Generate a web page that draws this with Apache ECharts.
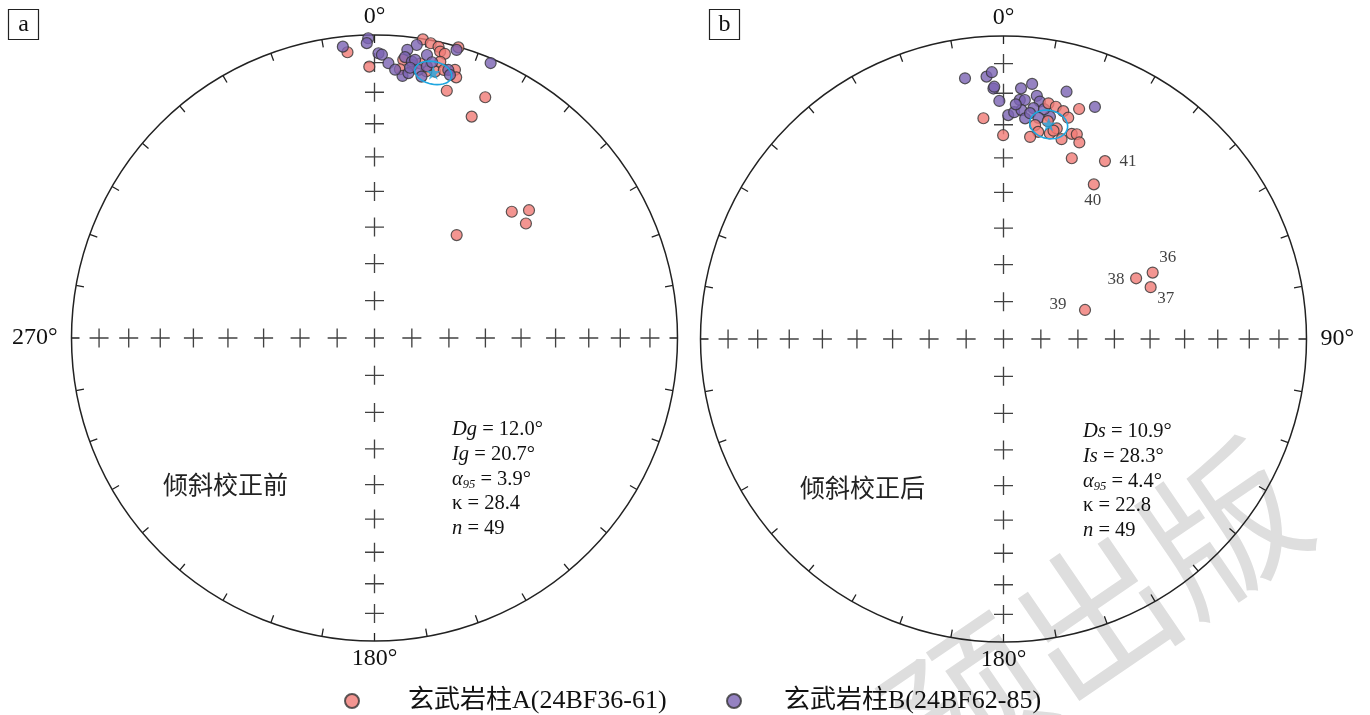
<!DOCTYPE html>
<html><head><meta charset="utf-8">
<script src="https://cdn.jsdelivr.net/npm/echarts@6/dist/echarts.min.js"></script>
<style>html,body{margin:0;padding:0;background:#fff}#c{width:1370px;height:715px}</style>
</head><body><div id="c"></div>
<script>
// ---- Panel a: before tilt correction (declination, inclination in degrees) ----
const aRedDec = [354.6, 358.9, 9.2, 10.8, 12.4, 12.9, 13.9, 16.1, 5.9, 5.4, 12.8, 16.7, 17.4, 16.3, 24.7, 23.7, 47.4, 50.4, 52.9, 38.6, 7.9, 13.4, 11.0, 9.5, 14.5];
const aRedInc = [5.9, 11.4, 0.2, 1.1, 1.8, 3.4, 3.8, 0.2, 8.5, 11.9, 10.8, 8.4, 10.8, 16.1, 13.6, 21.3, 38.4, 34.2, 37.4, 54.2, 10.0, 7.0, 11.3, 9.0, 9.5];
const aPurDec = [353.8, 358.8, 358.5, 0.8, 1.5, 2.9, 8.2, 15.9, 22.9, 6.5, 6.2, 6.1, 7.3, 7.7, 8.3, 10.5, 9.3, 10.2, 10.9, 15.4, 16.0, 7.5, 11.8, 4.4];
const aPurInc = [3.7, 1.2, 3.0, 6.7, 7.2, 10.1, 2.6, 1.3, 1.7, 4.8, 7.5, 14.1, 12.9, 8.8, 8.0, 5.6, 11.3, 13.4, 9.6, 9.1, 10.6, 11.0, 7.8, 12.2];
// ---- Panel b: after tilt correction ----
const bRedDec = [354.8, 359.9, 10.8, 12.7, 14.7, 16.3, 18.2, 8.4, 9.5, 7.5, 12.7, 14.2, 16.2, 18.4, 19.7, 21.1, 20.7, 29.7, 30.3, 66.0, 65.4, 70.6, 70.4, 11.5, 13.5];
const bRedInc = [27.7, 33.2, 21.9, 22.5, 23.3, 24.9, 21.2, 29.4, 31.3, 33.2, 31.1, 29.1, 31.9, 29.4, 29.0, 31.1, 36.4, 32.9, 40.6, 45.2, 50.2, 47.3, 66.7, 27.5, 30.0];
const bRedTag = ['', '', '', '', '', '', '', '', '', '', '', '', '', '', '', '', '', '41', '40', '36', '38', '37', '39', '', ''];
const bPurDec = [351.6, 356.3, 357.5, 357.7, 357.9, 359.0, 4.0, 6.4, 3.9, 5.1, 7.8, 8.7, 14.3, 21.5, 1.2, 2.7, 4.5, 5.6, 7.4, 11.8, 6.7, 10.0, 3.0, 9.0];
const bPurInc = [14.1, 14.3, 12.9, 18.4, 17.8, 22.5, 18.2, 16.4, 22.0, 21.9, 20.1, 21.8, 16.9, 18.8, 27.0, 26.0, 25.2, 27.7, 24.2, 26.0, 25.9, 24.0, 23.5, 27.0];
// ---- Mean directions and alpha95 (a, b) ----
const meanDec = [12.5, 11.9];
const meanInc = [11.3, 28.4];
const alpha95 = [3.9, 4.4];
// ---- Net grid ----
const gridInc = [80, 70, 60, 50, 40, 30, 20, 10];
const gridDec = [0, 90, 180, 270];
const angleLabelsA = {0: '0°', 180: '180°', 270: '270°'};
const angleLabelsB = {0: '0°', 90: '90°', 180: '180°'};
const nameA = '玄武岩柱A(24BF36-61)';
const nameB = '玄武岩柱B(24BF62-85)';
const statsA = ['{i|Dg} = 12.0°', '{i|Ig} = 20.7°', '{i|α}{s|95} = 3.9°', 'κ = 28.4', '{i|n} = 49'];
const statsB = ['{i|Ds} = 10.9°', '{i|Is} = 28.3°', '{i|α}{s|95} = 4.4°', 'κ = 22.8', '{i|n} = 49'];
const titleA = '倾斜校正前';
const titleB = '倾斜校正后';
const watermark = '预出版';

const deg = Math.PI / 180;
const SERIF = "'Liberation Serif','Noto Sans CJK SC',serif";
const RED = '#f07a76', PUR = '#7b63b3', CYAN = '#1fa6e0';
function rho(inc) { return Math.SQRT2 * Math.sin((90 - inc) / 2 * deg); }
function pts(decs, incs) { return decs.map((d, i) => [rho(incs[i]), d]); }
function smallCircle(D, I, a) {
  const m = [Math.cos(I*deg)*Math.cos(D*deg), Math.cos(I*deg)*Math.sin(D*deg), Math.sin(I*deg)];
  const e1 = [-Math.sin(I*deg)*Math.cos(D*deg), -Math.sin(I*deg)*Math.sin(D*deg), Math.cos(I*deg)];
  const e2 = [-Math.sin(D*deg), Math.cos(D*deg), 0];
  const out = [];
  for (let t = 0; t <= 360; t += 5) {
    const c = Math.cos(t*deg), s = Math.sin(t*deg);
    const p = [0,1,2].map(k => Math.cos(a*deg)*m[k] + Math.sin(a*deg)*(c*e1[k] + s*e2[k]));
    const inc = Math.asin(p[2]) / deg;
    let dec = Math.atan2(p[1], p[0]) / deg; if (dec < 0) dec += 360;
    out.push([rho(inc), dec]);
  }
  return out;
}
const gridPts = [[rho(90), 0]];
gridDec.forEach(d => gridInc.forEach(i => gridPts.push([rho(i), d])));

const CROSS = 'path://M-10,-0.7L10,-0.7L10,0.7L-10,0.7Z M-0.7,-10L0.7,-10L0.7,10L-0.7,10Z';
const STAR = 'path://M0,-10L2.35,-3.24L9.51,-3.09L3.8,1.24L5.88,8.09L0,4L-5.88,8.09L-3.8,1.24L-9.51,-3.09L-2.35,-3.24Z';
const tagOffset = {'41': [23, 0], '40': [-1, 16], '36': [15, -15], '38': [-20, 1], '37': [15, 11], '39': [-27, -5]};

function angleAxis(idx, labels) {
  return {
    polarIndex: idx, type: 'value', min: 0, max: 360, interval: 10, startAngle: 90, clockwise: true,
    axisLine: {show: true, lineStyle: {color: '#222', width: 1.5}},
    axisTick: {show: true, inside: true, length: 8, lineStyle: {color: '#222', width: 1.3}},
    splitLine: {show: false},
    axisLabel: {show: true, margin: 6, padding: [0, 8, 0, 8], fontSize: 24, fontFamily: SERIF, color: '#111',
      formatter: v => labels[v] || ''}
  };
}
function radiusAxis(idx) {
  return {polarIndex: idx, type: 'value', min: 0, max: 1,
    axisLine: {show: false}, axisTick: {show: false}, axisLabel: {show: false}, splitLine: {show: false}};
}
function dotSeries(name, idx, data, color) {
  return {name, type: 'scatter', coordinateSystem: 'polar', polarIndex: idx, data, symbol: 'circle', symbolSize: 11,
    itemStyle: {color, borderColor: '#333', borderWidth: 1.2}, z: 3};
}
const bRedData = pts(bRedDec, bRedInc).map((v, i) => bRedTag[i] ? {
  value: v, label: {show: true, formatter: bRedTag[i], position: 'inside', offset: tagOffset[bRedTag[i]],
    fontSize: 17, fontFamily: SERIF, color: '#111'}} : v);

const series = [];
[0, 1].forEach(idx => {
  series.push({type: 'scatter', coordinateSystem: 'polar', polarIndex: idx, data: gridPts, symbol: CROSS,
    symbolSize: 19, itemStyle: {color: '#111'}, z: 1, silent: true});
});
series.push(dotSeries(nameA, 0, pts(aRedDec, aRedInc), RED));
series.push(dotSeries(nameB, 0, pts(aPurDec, aPurInc), PUR));
series.push(dotSeries(nameB, 1, pts(bPurDec, bPurInc), PUR));
series.push(dotSeries(nameA, 1, bRedData, RED));
[0, 1].forEach(idx => {
  series.push({type: 'line', coordinateSystem: 'polar', polarIndex: idx, data: smallCircle(meanDec[idx], meanInc[idx], alpha95[idx]),
    showSymbol: false, symbol: 'none', lineStyle: {color: CYAN, width: 1.6}, z: 5, silent: true});
  series.push({type: 'scatter', coordinateSystem: 'polar', polarIndex: idx, data: [[rho(meanInc[idx]), meanDec[idx]]],
    symbol: STAR, symbolSize: 14, itemStyle: {color: CYAN}, z: 6, silent: true});
});

function statEls(x, y0, lines) {
  return lines.map((t, i) => ({type: 'text', x, y: y0 + i * 24.6, z: 10, style: {
    text: t, fill: '#111', fontSize: 20.5, fontFamily: SERIF, textAlign: 'left', textVerticalAlign: 'middle',
    rich: {i: {fontStyle: 'italic', fontSize: 20.5, fontFamily: SERIF, lineHeight: 24},
           s: {fontStyle: 'italic', fontSize: 12.5, fontFamily: SERIF, lineHeight: 12, verticalAlign: 'bottom'}}}}));
}
const legendTextA = {fontSize: 26, fontFamily: SERIF, color: '#111', padding: [0, 0, 0, 44]};
const legendTextB = {fontSize: 26, fontFamily: SERIF, color: '#111', padding: [0, 0, 0, 38]};
const graphic = [
  {type: 'text', x: 1095, y: 615, rotation: 0.6, z: -10, style: {text: watermark, fill: '#dedede', fontSize: 155,
    fontFamily: "'Noto Sans CJK SC',sans-serif", textAlign: 'center', textVerticalAlign: 'middle'}},
  {type: 'rect', shape: {x: 8.5, y: 9.5, width: 30, height: 30}, style: {fill: 'none', stroke: '#222', lineWidth: 1.2}},
  {type: 'text', x: 23.5, y: 24.5, style: {text: 'a', fontSize: 24, fontFamily: SERIF, fill: '#111', textAlign: 'center', textVerticalAlign: 'middle'}},
  {type: 'rect', shape: {x: 709.5, y: 9.5, width: 30, height: 30}, style: {fill: 'none', stroke: '#222', lineWidth: 1.2}},
  {type: 'text', x: 724.5, y: 24.5, style: {text: 'b', fontSize: 24, fontFamily: SERIF, fill: '#111', textAlign: 'center', textVerticalAlign: 'middle'}},
  {type: 'text', x: 163, y: 484, style: {text: titleA, fontSize: 25, fontFamily: "'Noto Sans CJK SC',sans-serif", fill: '#222', textAlign: 'left', textVerticalAlign: 'middle'}},
  {type: 'text', x: 800, y: 487, style: {text: titleB, fontSize: 25, fontFamily: "'Noto Sans CJK SC',sans-serif", fill: '#222', textAlign: 'left', textVerticalAlign: 'middle'}},
  ...statEls(452, 430, statsA),
  ...statEls(1083, 432, statsB)
];

const chart = echarts.init(document.getElementById('c'), null, {renderer: 'canvas'});
chart.setOption({
  animation: false,
  backgroundColor: '#fff',
  polar: [{center: [374.5, 338], radius: 303}, {center: [1003.5, 339], radius: 303}],
  angleAxis: [angleAxis(0, angleLabelsA), angleAxis(1, angleLabelsB)],
  radiusAxis: [radiusAxis(0), radiusAxis(1)],
  legend: [
    {data: [nameA], left: 339, top: 683, itemWidth: 14, itemHeight: 14, textStyle: legendTextA, selectedMode: false},
    {data: [nameB], left: 721, top: 683, itemWidth: 14, itemHeight: 14, textStyle: legendTextB, selectedMode: false}
  ],
  graphic,
  series
});
</script></body></html>
